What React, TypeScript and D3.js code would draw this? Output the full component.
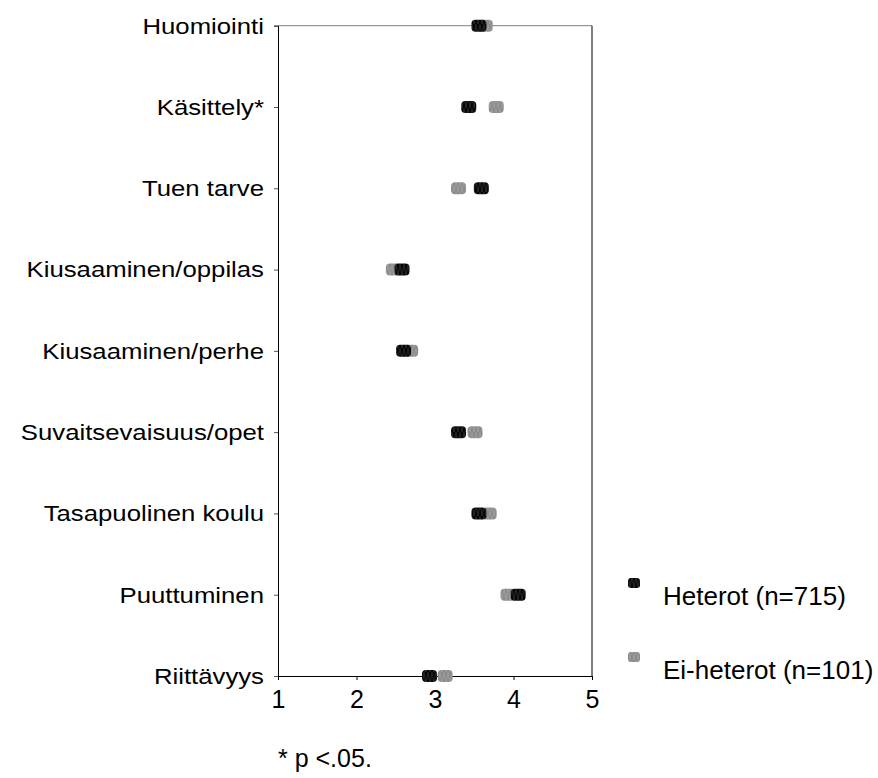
import React, { useEffect, useRef } from "react";
import * as d3 from "d3";

// Categories, top to bottom
const categories = [
    "Huomiointi",
    "Käsittely*",
    "Tuen tarve",
    "Kiusaaminen/oppilas",
    "Kiusaaminen/perhe",
    "Suvaitsevaisuus/opet",
    "Tasapuolinen koulu",
    "Puuttuminen",
    "Riittävyys",
];

// Means
const heterot = [3.56, 3.43, 3.59, 2.58, 2.60, 3.30, 3.56, 4.06, 2.93];
const eiHeterot = [3.64, 3.78, 3.30, 2.47, 2.69, 3.51, 3.69, 3.93, 3.13];

const xTicks = [1, 2, 3, 4, 5];
const seriesNames = ["Heterot (n=715)", "Ei-heterot (n=101)"];

function App() {
    const ref = useRef<SVGSVGElement>(null);

    useEffect(() => {
        const svg = d3.select(ref.current);
        svg.selectAll("*").remove();

        const font = "'Liberation Sans', Arial, sans-serif";
        const left = 278, right = 592, top = 25.7, bottom = 676;

        const x = d3.scaleLinear().domain([1, 5]).range([left, right]);
        const y = d3.scalePoint<string>().domain(categories).range([top, bottom]).padding(0);

        // zigzag texture for the markers
        const defs = svg.append("defs");
        const makePattern = (id: string, fill: string, line: string) => {
            const p = defs.append("pattern")
                .attr("id", id)
                .attr("patternUnits", "userSpaceOnUse")
                .attr("width", 4)
                .attr("height", 12);
            p.append("rect").attr("width", 4).attr("height", 12).attr("fill", fill);
            p.append("path")
                .attr("d", "M0,0 L2,12 L4,0")
                .attr("fill", "none")
                .attr("stroke", line)
                .attr("stroke-width", 0.6);
        };
        makePattern("patBlack", "#050505", "#3a3a3a");
        makePattern("patGray", "#8a8a8a", "#a8a8a8");

        // frame: top line is gray, the rest black
        svg.append("line")
            .attr("x1", left).attr("x2", right).attr("y1", top).attr("y2", top)
            .attr("stroke", "#7f7f7f").attr("stroke-width", 1);
        svg.append("line")
            .attr("x1", right).attr("x2", right).attr("y1", top).attr("y2", bottom)
            .attr("stroke", "#000").attr("stroke-width", 1);

        // Y axis (left)
        svg.append("g")
            .attr("transform", `translate(${left},0)`)
            .call(d3.axisLeft(y).tickSize(4).tickFormat(() => ""))
            .call(g => g.select(".domain").attr("stroke", "#000"))
            .call(g => g.selectAll(".tick line").attr("stroke", "#555"));

        // category labels, slightly wide like the original
        categories.forEach(c => {
            svg.append("g")
                .attr("transform", `translate(264,${y(c)}) scale(1.17,1)`)
                .append("text")
                .attr("text-anchor", "end")
                .attr("dy", "0.36em")
                .style("font-family", font)
                .style("font-size", "22px")
                .attr("fill", "#000")
                .text(c);
        });

        // X axis (bottom)
        svg.append("g")
            .attr("transform", `translate(0,${bottom})`)
            .call(d3.axisBottom(x).tickValues(xTicks).tickSize(4).tickFormat(d3.format("d")))
            .call(g => g.select(".domain").attr("stroke", "#000"))
            .call(g => g.selectAll(".tick line").attr("stroke", "#000"))
            .call(g => g.selectAll(".tick text")
                .attr("y", 14)
                .attr("dy", "0.71em")
                .attr("fill", "#000")
                .style("font-family", font)
                .style("font-size", "25px"));

        // markers: gray first, black on top
        const mw = 15, mh = 12;
        const series = [
            { values: eiHeterot, pat: "url(#patGray)" },
            { values: heterot, pat: "url(#patBlack)" },
        ];
        series.forEach(s => {
            svg.append("g")
                .selectAll("rect")
                .data(categories)
                .join("rect")
                .attr("x", (d, i) => x(s.values[i]) - mw / 2)
                .attr("y", d => (y(d) as number) - mh / 2)
                .attr("width", mw)
                .attr("height", mh)
                .attr("rx", 4)
                .attr("fill", s.pat);
        });

        // legend
        const legend = svg.append("g");
        const legY = [583, 657];
        const legPat = ["url(#patBlack)", "url(#patGray)"];
        seriesNames.forEach((name, i) => {
            legend.append("rect")
                .attr("x", 628).attr("y", legY[i] - 5)
                .attr("width", 12).attr("height", 10)
                .attr("rx", 3)
                .attr("fill", legPat[i]);
            legend.append("text")
                .attr("x", 663)
                .attr("y", legY[i] + 22)
                .style("font-family", font)
                .style("font-size", "26px")
                .attr("fill", "#000")
                .text(name);
        });

        // footnote
        svg.append("text")
            .attr("x", 278)
            .attr("y", 767)
            .style("font-family", font)
            .style("font-size", "25px")
            .attr("fill", "#000")
            .text("* p <.05.");
    }, []);

    return (
        <svg
            ref={ref}
            width={878}
            height={778}
            style={{ position: "absolute", left: 0, top: 0, background: "#fff" }}
        />
    );
}

export default App;
